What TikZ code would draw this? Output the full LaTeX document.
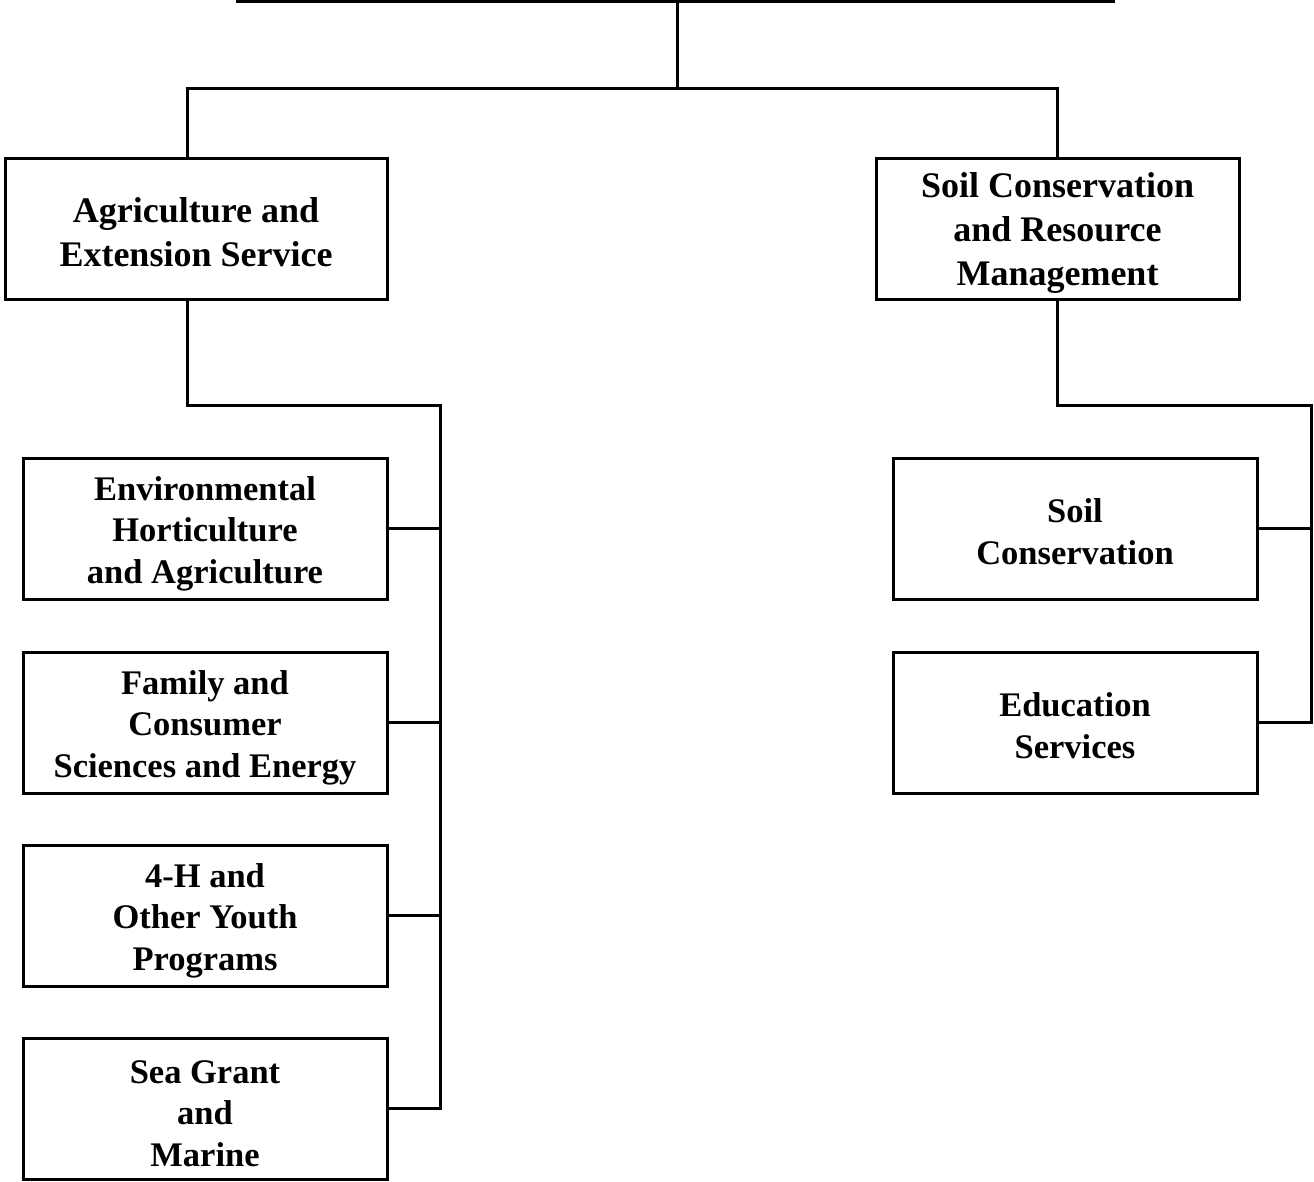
\documentclass[tikz,border=0pt]{standalone}
\usepackage{fontspec}
\setmainfont{Liberation Serif}
\begin{document}
\begin{tikzpicture}[x=1pt,y=-1pt,
  line width=3pt, line join=miter,
  mainbox/.style={draw, line width=3pt, rectangle, inner sep=0pt, minimum height=141pt},
  subbox/.style={draw, line width=3pt, rectangle, inner sep=0pt,
    minimum width=364pt, minimum height=141pt},
  mainlbl/.style={align=center, inner sep=0pt, yshift=-4pt, font=\fontsize{36}{44}\selectfont\bfseries},
  sublbl/.style={align=center, inner sep=0pt, yshift=-5pt, font=\fontsize{34.5}{41.5}\selectfont\bfseries}]
\useasboundingbox (0,0) rectangle (1314,1181);
% top
\coordinate (tl) at (236,1.5);
\coordinate (tr) at (1115,1.5);
\coordinate (tm) at (677,1.5);
\coordinate (j) at (677,88);
\coordinate (lb) at (440,405);
\coordinate (rb) at (1311,405);
% main boxes
\node[mainbox, minimum width=382pt, label={[mainlbl]center:{Agriculture and\\Extension Service}}] (A) at (196,228.5) {};
\node[mainbox, minimum width=363pt, label={[mainlbl]center:{Soil Conservation\\and Resource\\Management}}] (S) at (1057.5,228.5) {};
% left sub boxes
\node[subbox, label={[sublbl]center:{Environmental\\Horticulture\\and Agriculture}}] (env) at (205,528.5) {};
\node[subbox, label={[sublbl]center:{Family and\\Consumer\\Sciences and Energy}}] (fam) at (205,722.5) {};
\node[subbox, label={[sublbl]center:{4-H and\\Other Youth\\Programs}}] (fourh) at (205,915.5) {};
\node[subbox, label={[sublbl]center:{Sea Grant\\and\\Marine}}] (sea) at (205,1108.5) {};
% right sub boxes
\node[subbox, label={[sublbl, yshift=2pt]center:{Soil\\Conservation}}] (soil) at (1075,528.5) {};
\node[subbox, label={[sublbl, yshift=2pt]center:{Education\\Services}}] (edu) at (1075,722.5) {};
% connectors
\draw (tl) -- (tr);
\draw (tm) -- (j);
\draw ([xshift=-9pt]A.north) |- (j) -| (S.north);
\draw ([xshift=-9pt]A.south) |- (lb) |- (sea.east);
\draw (env.east) -- (env.east -| lb);
\draw (fam.east) -- (fam.east -| lb);
\draw (fourh.east) -- (fourh.east -| lb);
\draw (S.south) |- (rb) |- (edu.east);
\draw (soil.east) -- (soil.east -| rb);
\end{tikzpicture}
\end{document}
